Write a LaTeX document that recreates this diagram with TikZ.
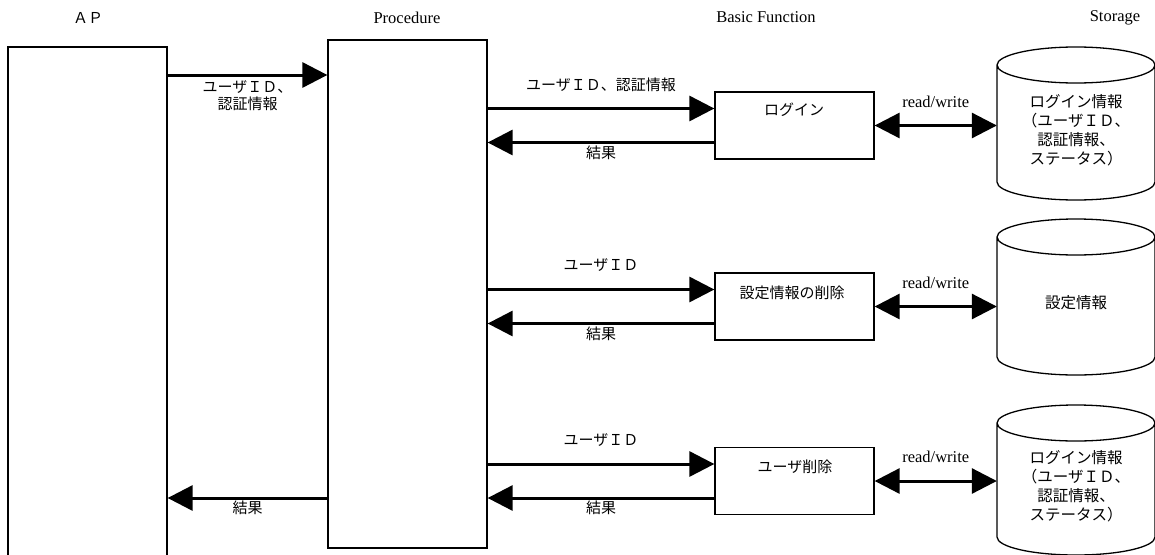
\documentclass[tikz,border=0pt]{standalone}
\usepackage{fontspec}
\newfontfamily\jpfont{Noto Sans CJK JP}
\newfontfamily\headfont{Liberation Serif}
\usetikzlibrary{arrows.meta,calc}

% Outline of a storage drum around a text node:
% #1 node name, #2 distance from centre up to the top ellipse, #3 down to the bottom one
\newcommand\drumoutline[3]{%
  \draw[line width=1.3pt]
    ($(#1.center)+(-79,-#2)$) -- ($(#1.center)+(-79,#3)$)
    arc[start angle=180,end angle=360,x radius=79pt,y radius=18pt]
    -- ($(#1.center)+(79,-#2)$)
    arc[start angle=0,end angle=360,x radius=79pt,y radius=18pt];}

\begin{document}
\begin{tikzpicture}[x=1pt,y=-1pt,
  lane/.style={draw,line width=1.3pt,minimum width=159pt,inner sep=0pt},
  fnbox/.style={draw,line width=1.3pt,minimum width=159pt,minimum height=67pt,inner sep=0pt},
  drum/.style={minimum width=158pt,inner sep=0pt,align=center,
    font=\jpfont\fontsize{15.5pt}{19pt}\selectfont},
  jp/.style={font=\jpfont\fontsize{15pt}{17pt}\selectfont,inner sep=0pt,align=center},
  head/.style={font=\headfont\fontsize{16.5pt}{18pt}\selectfont,inner sep=0pt},
  flow/.style={line width=3pt,-{Triangle[length=25pt,width=25pt]}},
  rw/.style={line width=3pt,{Triangle[length=25pt,width=25pt]}-{Triangle[length=25pt,width=25pt]}},
  ]
\useasboundingbox (0,0) rectangle (1155,554);
\clip (0,0) rectangle (1155,554);

% column headings
\node[jp] (tap) at (88,18) {ＡＰ};
\node[head] (tproc) at (407,17.5) {Procedure};
\node[head] (tbf) at (766,17.5) {Basic Function};
\node[head] (tst) at (1115,17.5) {Storage};

% lanes
\node[lane,minimum height=530pt] (ap) at (87.5,312) {};
\node[lane,minimum height=508pt] (proc) at (407.5,294) {};

% basic functions
\node[fnbox] (b1) at (794.5,125.5) {};
\node[fnbox] (b2) at (794.5,306.5) {};
\node[fnbox] (b3) at (794.5,481) {};
\node[jp] (l1) at (794,110) {ログイン};
\node[jp] (l2) at (792,293) {設定情報の削除};
\node[jp] (l3) at (795,467) {ユーザ削除};

% storage
\node[drum] (c1) at (1076,130) {ログイン情報\\（ユーザＩＤ、\\認証情報、\\ステータス）};
\node[drum] (c2) at (1076,303) {設定情報};
\node[drum] (c3) at (1076,486.5) {ログイン情報\\（ユーザＩＤ、\\認証情報、\\ステータス）};
\drumoutline{c1}{65}{52}
\drumoutline{c2}{66}{54}
\drumoutline{c3}{63.5}{50.5}

% AP <-> Procedure
\coordinate (a1) at (0,75);
\coordinate (a2) at (0,498);
\draw[flow] (ap.east |- a1) -- node[jp,midway,yshift=-21pt] (la1) {ユーザＩＤ、\\認証情報} (proc.west |- a1);
\draw[flow] (proc.west |- a2) -- node[jp,midway,yshift=-10pt] (la2) {結果} (ap.east |- a2);

% Procedure <-> basic functions
\coordinate (i1) at ($(b1.west)+(0,-17)$);
\coordinate (o1) at ($(b1.west)+(0,17)$);
\coordinate (i2) at ($(b2.west)+(0,-17)$);
\coordinate (o2) at ($(b2.west)+(0,17)$);
\coordinate (i3) at ($(b3.west)+(0,-17)$);
\coordinate (o3) at ($(b3.west)+(0,17)$);
\draw[flow] (proc.east |- i1) -- node[jp,midway,yshift=24pt] (li1) {ユーザＩＤ、認証情報} (i1);
\draw[flow] (o1) -- node[jp,midway,yshift=-10pt] (lo1) {結果} (proc.east |- o1);
\draw[flow] (proc.east |- i2) -- node[jp,midway,yshift=24pt] (li2) {ユーザＩＤ} (i2);
\draw[flow] (o2) -- node[jp,midway,yshift=-10pt] (lo2) {結果} (proc.east |- o2);
\draw[flow] (proc.east |- i3) -- node[jp,midway,yshift=24pt] (li3) {ユーザＩＤ} (i3);
\draw[flow] (o3) -- node[jp,midway,yshift=-10pt] (lo3) {結果} (proc.east |- o3);

% basic functions <-> storage
\draw[rw] (b1.east) -- node[head,midway,yshift=24pt] (rw1) {read/write} (b1.east -| c1.west);
\draw[rw] (b2.east) -- node[head,midway,yshift=24pt] (rw2) {read/write} (b2.east -| c2.west);
\draw[rw] (b3.east) -- node[head,midway,yshift=24pt] (rw3) {read/write} (b3.east -| c3.west);
\end{tikzpicture}
\end{document}
